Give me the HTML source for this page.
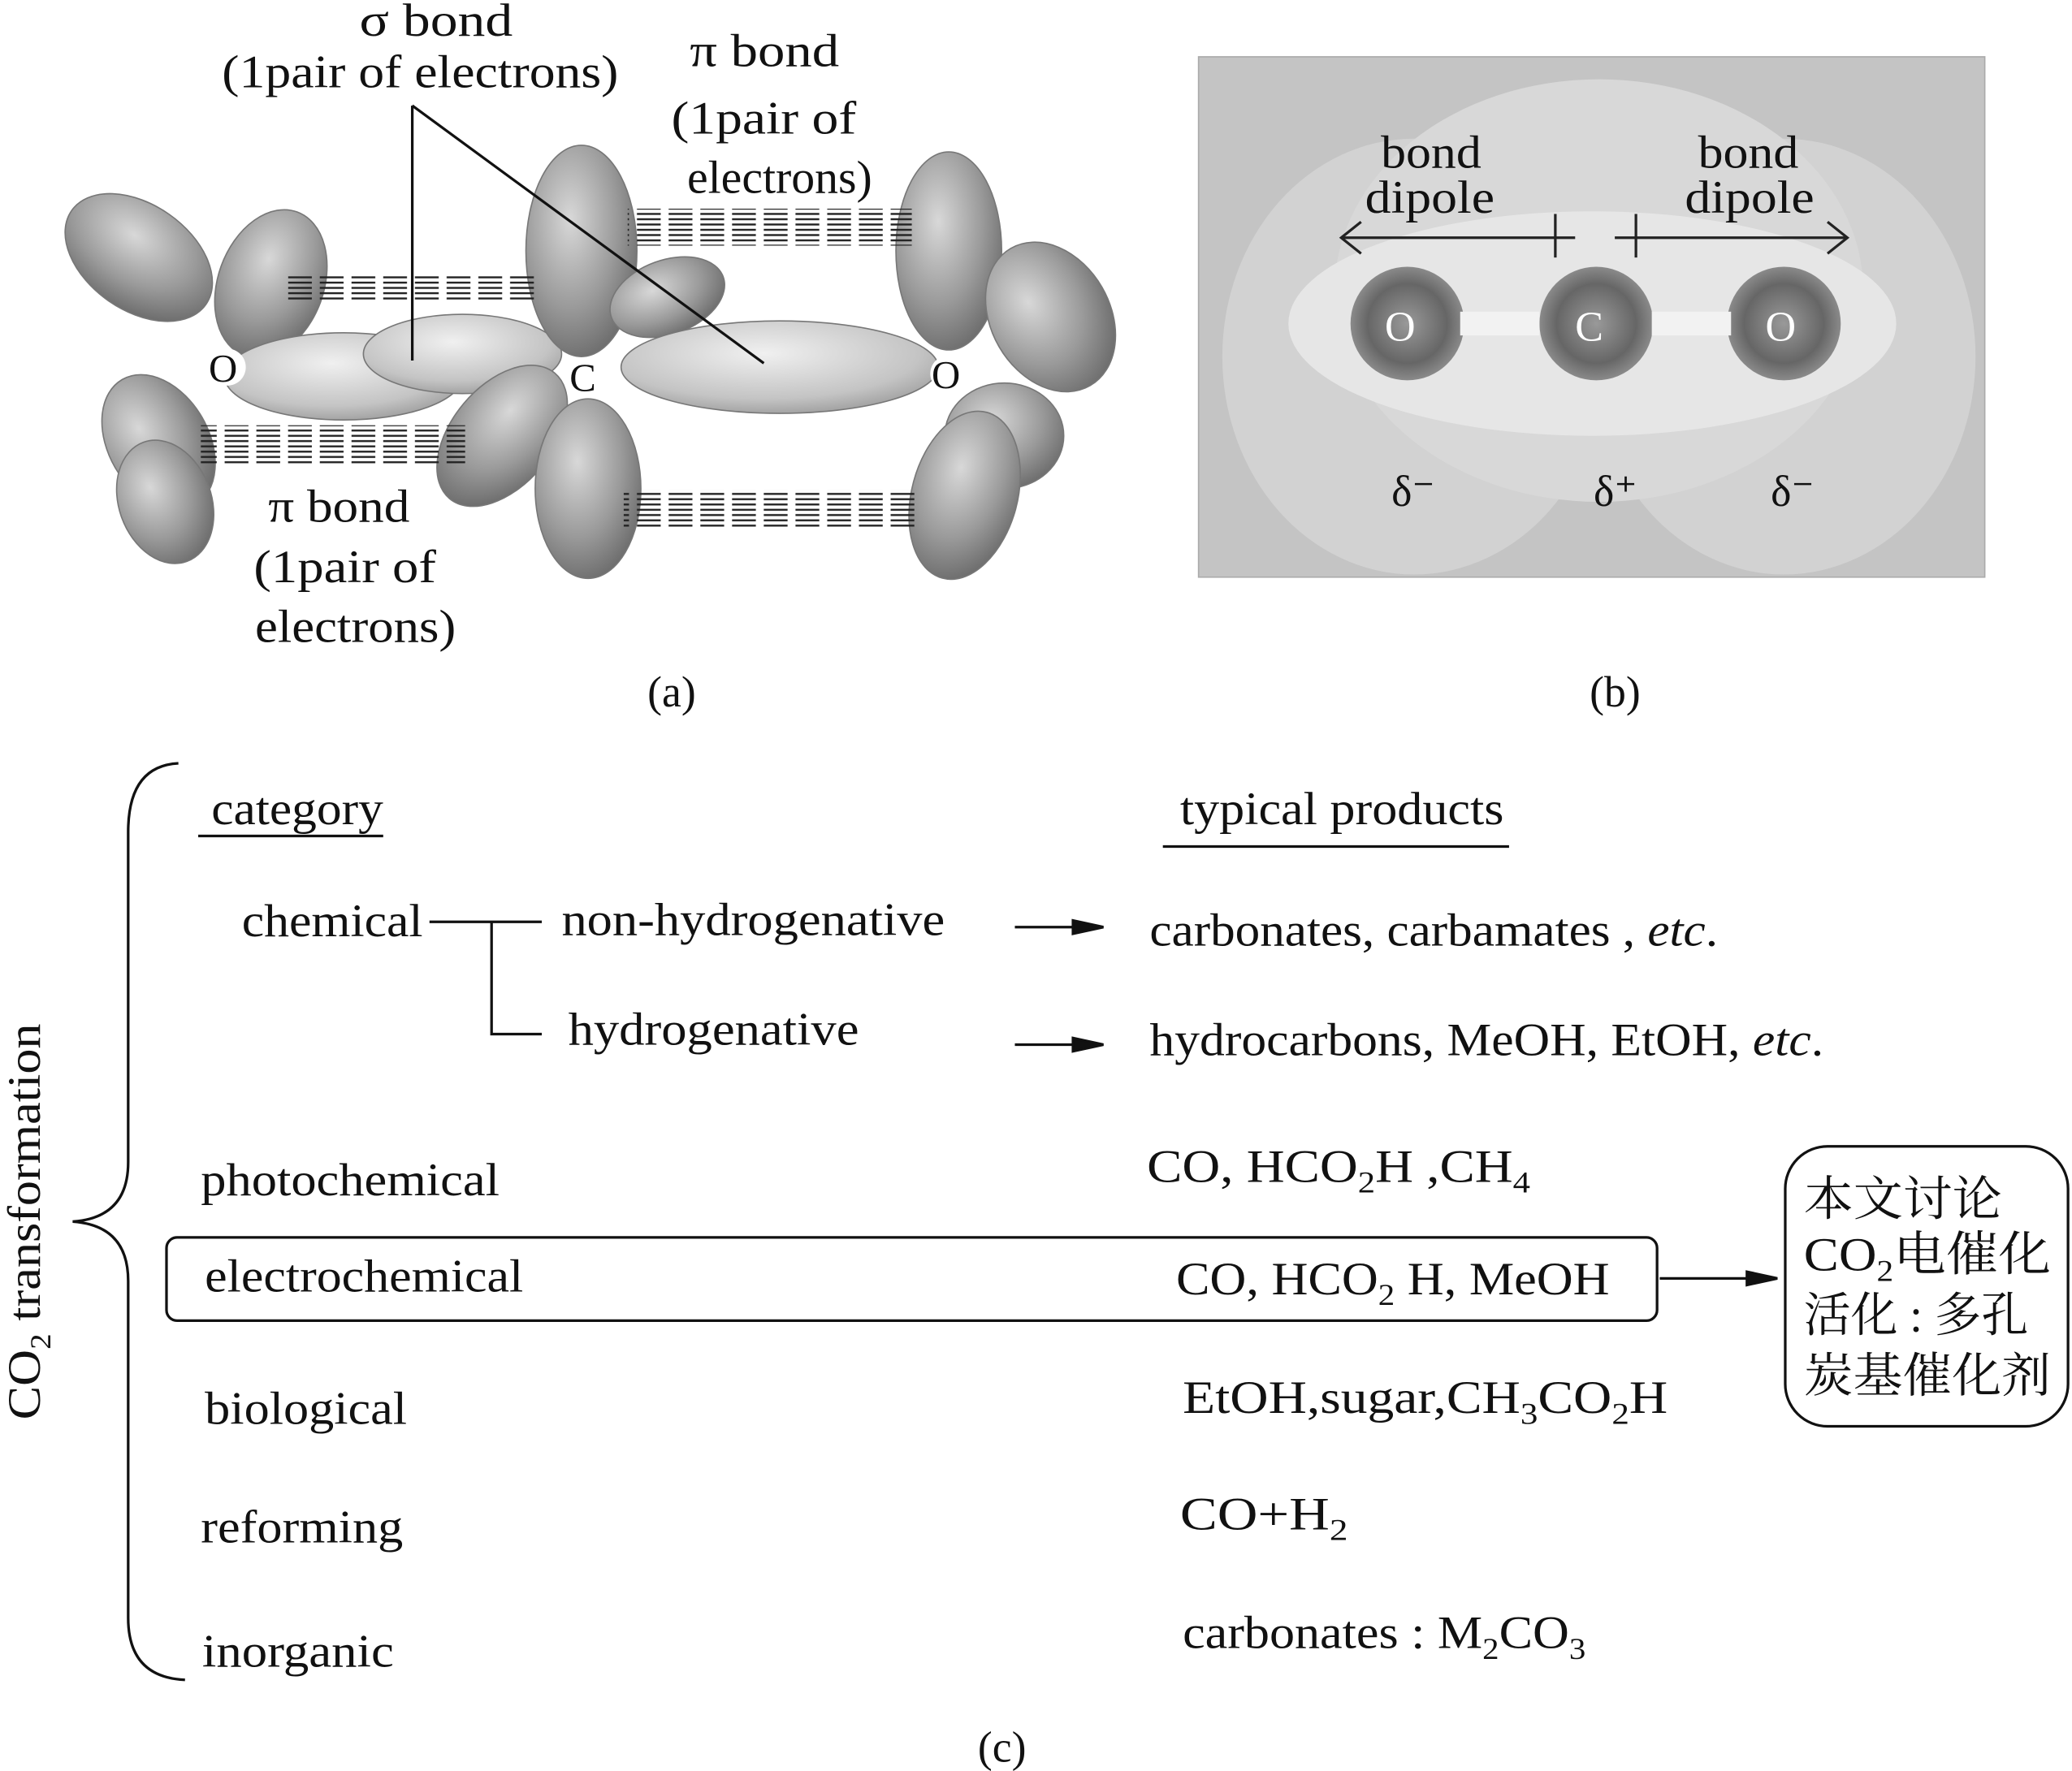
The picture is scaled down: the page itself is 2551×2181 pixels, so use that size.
<!DOCTYPE html>
<html><head><meta charset="utf-8"><style>
html,body{margin:0;padding:0;background:#fff;}
svg{display:block;}
text{font-family:"Liberation Serif","Noto Serif CJK SC",serif;fill:#111;}
</style></head><body>
<svg width="2551" height="2181" viewBox="0 0 1568 1341" preserveAspectRatio="none" xmlns="http://www.w3.org/2000/svg">
<defs>
<radialGradient id="g" cx="40%" cy="35%" r="70%">
<stop offset="0" stop-color="#d8d8d8"/><stop offset="0.6" stop-color="#9a9a9a"/><stop offset="1" stop-color="#6a6a6a"/></radialGradient>
<radialGradient id="gl" cx="45%" cy="35%" r="70%">
<stop offset="0" stop-color="#f0f0f0"/><stop offset="0.7" stop-color="#c4c4c4"/><stop offset="1" stop-color="#9a9a9a"/></radialGradient>
<radialGradient id="atom" cx="50%" cy="50%" r="50%">
<stop offset="0" stop-color="#999"/><stop offset="0.7" stop-color="#666"/><stop offset="1" stop-color="#8a8a8a"/></radialGradient>
<pattern id="hatch" width="24" height="8" patternUnits="userSpaceOnUse">
<line x1="2" y1="2" x2="20" y2="2" stroke="#222" stroke-width="1.5"/><line x1="2" y1="6" x2="20" y2="6" stroke="#222" stroke-width="1.5"/></pattern>
</defs>

<g stroke="#777" stroke-width="1">
<ellipse cx="105" cy="195" rx="62" ry="40" transform="rotate(35 105 195)" fill="url(#g)"/>
<ellipse cx="205" cy="215" rx="40" ry="58" transform="rotate(20 205 215)" fill="url(#g)"/>
<ellipse cx="120" cy="335" rx="38" ry="55" transform="rotate(-30 120 335)" fill="url(#g)"/>
<ellipse cx="125" cy="380" rx="35" ry="48" transform="rotate(-20 125 380)" fill="url(#g)"/>
<ellipse cx="260" cy="285" rx="90" ry="33" fill="url(#gl)"/>
<ellipse cx="350" cy="268" rx="75" ry="30" fill="url(#gl)"/>
<ellipse cx="440" cy="190" rx="42" ry="80" fill="url(#g)"/>
<ellipse cx="505" cy="225" rx="45" ry="28" transform="rotate(-20 505 225)" fill="url(#g)"/>
<ellipse cx="380" cy="330" rx="38" ry="62" transform="rotate(40 380 330)" fill="url(#g)"/>
<ellipse cx="445" cy="370" rx="40" ry="68" fill="url(#g)"/>
<ellipse cx="590" cy="278" rx="120" ry="35" fill="url(#gl)"/>
<ellipse cx="718" cy="190" rx="40" ry="75" fill="url(#g)"/>
<ellipse cx="795" cy="240" rx="45" ry="60" transform="rotate(-30 795 240)" fill="url(#g)"/>
<ellipse cx="760" cy="330" rx="45" ry="40" fill="url(#g)"/>
<ellipse cx="730" cy="375" rx="40" ry="65" transform="rotate(15 730 375)" fill="url(#g)"/>
</g>
<circle cx="172" cy="278" r="14" fill="#fff"/>
<circle cx="445" cy="285" r="14" fill="#fff"/>
<circle cx="718" cy="283" r="14" fill="#fff"/>
<rect x="218" y="208" width="190" height="20" fill="url(#hatch)"/>
<rect x="475" y="158" width="215" height="28" fill="url(#hatch)"/>
<rect x="152" y="322" width="200" height="30" fill="url(#hatch)"/>
<rect x="472" y="371" width="220" height="28" fill="url(#hatch)"/>
<text x="158" y="289" font-size="30">O</text>
<text x="431" y="296" font-size="30">C</text>
<text x="705" y="294" font-size="30">O</text>
<line x1="312" y1="80" x2="312" y2="273" stroke="#111" stroke-width="2"/>
<line x1="312" y1="80" x2="578" y2="275" stroke="#111" stroke-width="2"/>
<g font-size="35" lengthAdjust="spacingAndGlyphs">
<text x="272" y="27" textLength="116" lengthAdjust="spacingAndGlyphs">σ bond</text>
<text x="168" y="66" textLength="300" lengthAdjust="spacingAndGlyphs">(1pair of electrons)</text>
<text x="522" y="50" textLength="113" lengthAdjust="spacingAndGlyphs">π bond</text>
<text x="508" y="101" textLength="140" lengthAdjust="spacingAndGlyphs">(1pair of</text>
<text x="520" y="146" textLength="140" lengthAdjust="spacingAndGlyphs">electrons)</text>
<text x="203" y="395" textLength="107" lengthAdjust="spacingAndGlyphs">π bond</text>
<text x="192" y="441" textLength="138" lengthAdjust="spacingAndGlyphs">(1pair of</text>
<text x="193" y="486" textLength="152" lengthAdjust="spacingAndGlyphs">electrons)</text>
</g>
<text x="490" y="535" font-size="33">(a)</text>

<rect x="907" y="43" width="595" height="394" fill="#c4c4c4" stroke="#aaa"/>
<ellipse cx="1070" cy="270" rx="145" ry="165" fill="#d2d2d2"/>
<ellipse cx="1350" cy="270" rx="145" ry="165" fill="#d2d2d2"/>
<ellipse cx="1210" cy="220" rx="200" ry="160" fill="#d8d8d8"/>
<ellipse cx="1205" cy="245" rx="230" ry="85" fill="#e6e6e6"/>
<circle cx="1065" cy="245" r="43" fill="url(#atom)"/>
<circle cx="1208" cy="245" r="43" fill="url(#atom)"/>
<circle cx="1350" cy="245" r="43" fill="url(#atom)"/>
<rect x="1105" y="236" width="60" height="18" fill="#f2f2f2"/>
<rect x="1250" y="236" width="60" height="18" fill="#f2f2f2"/>
<text x="1048" y="258" font-size="32" style="fill:#fff">O</text>
<text x="1192" y="258" font-size="32" style="fill:#fff">C</text>
<text x="1336" y="258" font-size="32" style="fill:#fff">O</text>
<text x="1045" y="127" font-size="35" textLength="76" lengthAdjust="spacingAndGlyphs">bond</text>
<text x="1033" y="161" font-size="35" textLength="98" lengthAdjust="spacingAndGlyphs">dipole</text>
<text x="1285" y="127" font-size="35" textLength="76" lengthAdjust="spacingAndGlyphs">bond</text>
<text x="1275" y="161" font-size="35" textLength="98" lengthAdjust="spacingAndGlyphs">dipole</text>
<g stroke="#222" stroke-width="2" fill="none">
<line x1="1015" y1="180" x2="1192" y2="180"/><path d="M1030 168 L1015 180 L1030 192"/><line x1="1177" y1="162" x2="1177" y2="195"/>
<line x1="1222" y1="180" x2="1398" y2="180"/><path d="M1383 168 L1398 180 L1383 192"/><line x1="1238" y1="162" x2="1238" y2="195"/>
</g>
<text x="1053" y="383" font-size="33">δ⁻</text>
<text x="1206" y="383" font-size="33">δ⁺</text>
<text x="1340" y="383" font-size="33">δ⁻</text>
<text x="1203" y="535" font-size="33">(b)</text>

<path d="M135 578 Q97 580 97 630 L97 880 Q97 922 55 925 Q97 928 97 970 L97 1225 Q97 1270 140 1272" fill="none" stroke="#111" stroke-width="2"/>
<text transform="translate(30 925) rotate(-90)" font-size="35" text-anchor="middle" textLength="300" lengthAdjust="spacingAndGlyphs">CO<tspan font-size="22" dy="8">2</tspan><tspan dy="-8"> transformation</tspan></text>
<g font-size="35">
<text x="160" y="624" textLength="130" lengthAdjust="spacingAndGlyphs">category</text>
<text x="893" y="624" textLength="245" lengthAdjust="spacingAndGlyphs">typical products</text>
<text x="183" y="709" textLength="137" lengthAdjust="spacingAndGlyphs">chemical</text>
<text x="425" y="708" textLength="290" lengthAdjust="spacingAndGlyphs">non-hydrogenative</text>
<text x="430" y="791" textLength="220" lengthAdjust="spacingAndGlyphs">hydrogenative</text>
<text x="870" y="716" textLength="430" lengthAdjust="spacingAndGlyphs">carbonates, carbamates , <tspan font-style="italic">etc</tspan>.</text>
<text x="870" y="799" textLength="510" lengthAdjust="spacingAndGlyphs">hydrocarbons, MeOH, EtOH, <tspan font-style="italic">etc</tspan>.</text>
<text x="152" y="905" textLength="226" lengthAdjust="spacingAndGlyphs">photochemical</text>
<text x="868" y="895" textLength="290" lengthAdjust="spacingAndGlyphs">CO, HCO<tspan font-size="23" dy="8">2</tspan><tspan dy="-8">H ,CH</tspan><tspan font-size="23" dy="8">4</tspan></text>
<text x="155" y="978" textLength="241" lengthAdjust="spacingAndGlyphs">electrochemical</text>
<text x="890" y="980" textLength="328" lengthAdjust="spacingAndGlyphs">CO, HCO<tspan font-size="23" dy="8">2</tspan><tspan dy="-8"> H, MeOH</tspan></text>
<text x="155" y="1078" textLength="153" lengthAdjust="spacingAndGlyphs">biological</text>
<text x="895" y="1070" textLength="367" lengthAdjust="spacingAndGlyphs">EtOH,sugar,CH<tspan font-size="23" dy="8">3</tspan><tspan dy="-8">CO</tspan><tspan font-size="23" dy="8">2</tspan><tspan dy="-8">H</tspan></text>
<text x="152" y="1168" textLength="153" lengthAdjust="spacingAndGlyphs">reforming</text>
<text x="893" y="1158" textLength="127" lengthAdjust="spacingAndGlyphs">CO+H<tspan font-size="23" dy="8">2</tspan></text>
<text x="153" y="1262" textLength="145" lengthAdjust="spacingAndGlyphs">inorganic</text>
<text x="895" y="1248" textLength="305" lengthAdjust="spacingAndGlyphs">carbonates : M<tspan font-size="23" dy="8">2</tspan><tspan dy="-8">CO</tspan><tspan font-size="23" dy="8">3</tspan></text>
</g>
<line x1="150" y1="633" x2="290" y2="633" stroke="#111" stroke-width="2"/>
<line x1="880" y1="641" x2="1142" y2="641" stroke="#111" stroke-width="2"/>
<g stroke="#111" stroke-width="2" fill="none">
<line x1="325" y1="698" x2="410" y2="698"/>
<polyline points="372,698 372,783 410,783"/>
<line x1="768" y1="702" x2="825" y2="702"/><path d="M812 697 L835 702 L812 707 Z" fill="#111"/>
<line x1="768" y1="791" x2="825" y2="791"/><path d="M812 786 L835 791 L812 796 Z" fill="#111"/>
<rect x="126" y="937" width="1128" height="63" rx="8"/>
<line x1="1256" y1="968" x2="1335" y2="968"/><path d="M1322 963 L1345 968 L1322 973 Z" fill="#111"/>
<rect x="1351" y="868" width="214" height="212" rx="32"/>
</g>
<g font-size="36">
<text x="1365" y="920" textLength="150" lengthAdjust="spacingAndGlyphs">本文讨论</text>
<text x="1365" y="962" textLength="187" lengthAdjust="spacingAndGlyphs">CO<tspan font-size="23" dy="8">2</tspan><tspan dy="-8">电催化</tspan></text>
<text x="1365" y="1008" textLength="170" lengthAdjust="spacingAndGlyphs">活化 : 多孔</text>
<text x="1365" y="1054" textLength="187" lengthAdjust="spacingAndGlyphs">炭基催化剂</text>
</g>
<text x="740" y="1334" font-size="33">(c)</text>
</svg>
</body></html>
